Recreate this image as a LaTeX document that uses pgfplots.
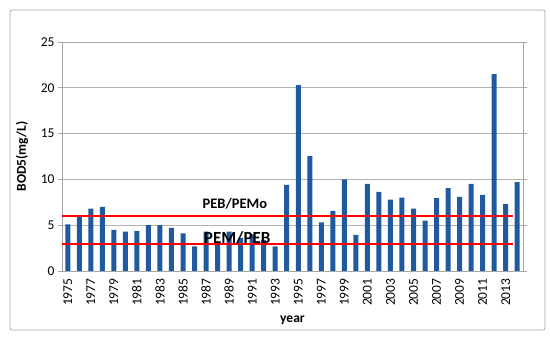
\documentclass[border=0pt]{standalone}
\usepackage{pgfplots}
\pgfplotsset{compat=1.18}
\usepackage{fontspec}
\setmainfont{Carlito}
\definecolor{barblue}{HTML}{1F5AA0}
\begin{document}
\begin{tikzpicture}
\useasboundingbox (-62pt,-68pt) rectangle (488pt,271pt);
\draw[gray!70, line width=0.8pt, rounded corners=2pt] (-52pt,-59pt) rectangle (483pt,261pt);
\begin{axis}[
  scale only axis, width=461pt, height=229pt,
  ymin=0, ymax=25, ytick={0,5,10,15,20,25},
  xmin=-0.5, xmax=39.5,
  xtick={0,2,...,38},
  xticklabels={1975,1977,1979,1981,1983,1985,1987,1989,1991,1993,1995,1997,1999,2001,2003,2005,2007,2009,2011,2013},
  xticklabel style={rotate=90, anchor=east, font=\fontsize{13.5}{15}\selectfont},
  yticklabel style={font=\fontsize{13.5}{15}\selectfont},
  /pgf/number format/assume math mode=true,
  xlabel={\textbf{year}}, ylabel={\textbf{BOD5(mg/L)}},
  xlabel style={font=\fontsize{13.5}{15}\selectfont, at={(axis description cs:0.5,-0.214)}, anchor=center},
  ylabel style={font=\fontsize{13.5}{15}\selectfont, at={(axis description cs:-0.087,0.5)}, anchor=center, rotate=0},
  ymajorgrids, grid style={gray!60, line width=0.6pt},
  axis line style={gray!70, line width=0.8pt},
  xtick style={draw=none},
  ytick style={gray!70, line width=0.6pt},
  tick align=outside, major tick length=4pt,
  clip=false,
]
\addplot[ybar, bar width=5pt, fill=barblue, draw=none] coordinates {
(0,5.1) (1,5.9) (2,6.8) (3,7.0) (4,4.5) (5,4.3) (6,4.35) (7,5.0) (8,5.0) (9,4.7)
(10,4.1) (11,2.7) (12,4.3) (13,2.9) (14,4.3) (15,3.6) (16,4.0) (17,3.4) (18,2.7) (19,9.4)
(20,20.3) (21,12.55) (22,5.3) (23,6.55) (24,10.0) (25,3.95) (26,9.5) (27,8.65) (28,7.8) (29,8.0)
(30,6.8) (31,5.5) (32,7.95) (33,9.05) (34,8.1) (35,9.5) (36,8.3) (37,21.5) (38,7.3) (39,9.7)
};
\addplot[red, line width=2.4pt] coordinates {(-0.5,6) (38.6,6)};
\addplot[red, line width=2pt] coordinates {(-0.5,3) (38.6,3)};
\node[font=\bfseries\fontsize{14.5}{16}\selectfont] at (axis cs:14.5,7.3) {PEB/PEMo};
\node[font=\bfseries\fontsize{17}{19}\selectfont] at (axis cs:14.7,3.6) {PEM/PEB};
\end{axis}
\end{tikzpicture}
\end{document}
